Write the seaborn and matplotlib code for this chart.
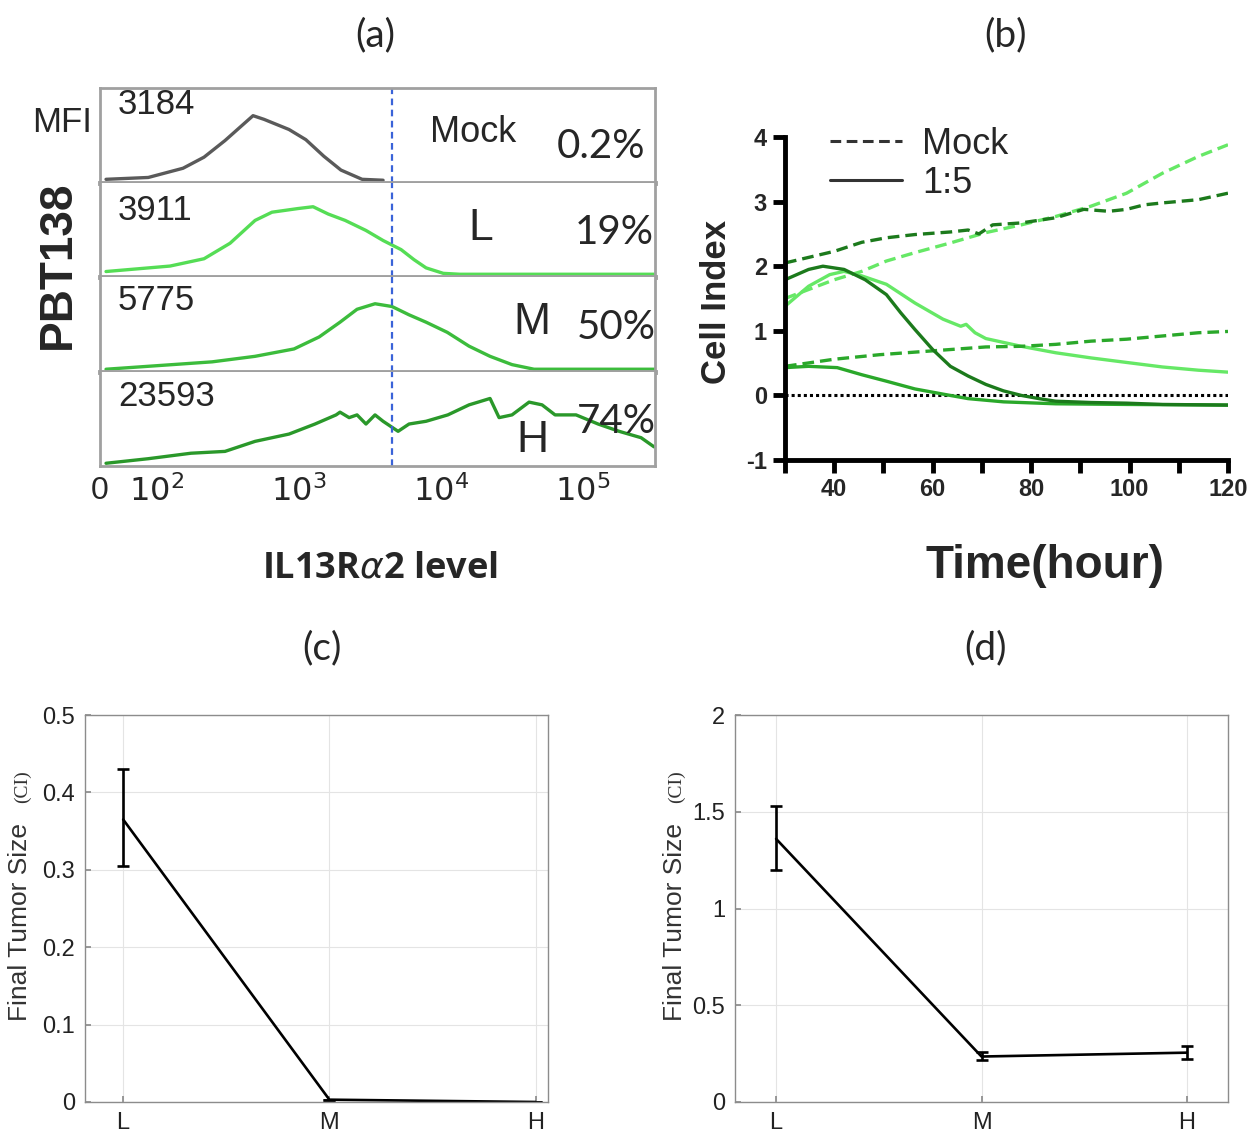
import matplotlib
matplotlib.use("Agg")
import matplotlib.pyplot as plt
from matplotlib.lines import Line2D
from matplotlib.ticker import NullLocator
import seaborn as sns
import pandas as pd

# ---- (a) flow cytometry histograms (IL13Ra2 intensity, relative count)
flow_rows = ["Mock", "L", "M", "H"]
flow_mfi = ["3184", "3911", "5775", "23593"]
flow_pct = ["0.2%", "19%", "50%", "74%"]
flow_colors = ["#5a5a5a", "#55dd55", "#3cbc3c", "#2a982a"]

mock_x = [10.6, 85, 153, 215, 302, 476, 569, 853, 1120, 1500, 1980, 2790, 3920]
mock_y = [0.01, 0.03, 0.13, 0.25, 0.43, 0.70, 0.66, 0.55, 0.44, 0.26, 0.11, 0.01, 0.0]

low_x = [10.6, 124, 215, 328, 492, 647, 986, 1260, 1610, 2120, 2970, 3920, 5250,
         6470, 7870, 10400, 13600, 322000]
low_y = [0.03, 0.09, 0.17, 0.34, 0.59, 0.68, 0.72, 0.74, 0.66, 0.59, 0.48, 0.37, 0.27,
         0.16, 0.07, 0.01, 0.0, 0.0]

mid_x = [10.6, 245, 492, 925, 1390, 1950, 2570, 3440, 4530, 5970, 7870, 11100, 15800,
         22200, 31700, 45300, 322000]
mid_y = [0.0, 0.08, 0.14, 0.22, 0.35, 0.51, 0.65, 0.71, 0.68, 0.59, 0.51, 0.40, 0.25,
         0.14, 0.05, 0.0, 0.0]

high_x = [10.6, 85, 174, 302, 492, 853, 1300, 1830, 1950, 2260, 2570, 2970, 3440, 3920,
          5000, 5970, 7870, 11200, 15800, 18300, 22200, 25700, 31700, 41800, 51600,
          63700, 89500, 128000, 180000, 257000, 317000]
high_y = [0.0, 0.05, 0.11, 0.13, 0.24, 0.32, 0.43, 0.53, 0.56, 0.50, 0.53, 0.43, 0.53,
          0.46, 0.35, 0.43, 0.46, 0.53, 0.64, 0.67, 0.71, 0.50, 0.53, 0.67, 0.64, 0.53,
          0.53, 0.43, 0.35, 0.28, 0.18]

flow_x = [mock_x, low_x, mid_x, high_x]
flow_y = [mock_y, low_y, mid_y, high_y]
flow_gate = 4500
flow_ticks = [0, 100, 1000, 10000, 100000]
flow_ticklabels = ["0", "$10^2$", "$10^3$", "$10^4$", "$10^5$"]

# ---- (b) real-time cell index
time_L_mock = [30, 40, 45.6, 50.6, 56.4, 63.6, 70.8, 78, 85, 92.2, 99.4, 106.7, 114, 120]
ci_L_mock = [1.50, 1.79, 1.92, 2.08, 2.21, 2.36, 2.52, 2.64, 2.77, 2.93, 3.13, 3.44, 3.70, 3.88]

time_M_mock = [30, 40, 49.2, 56.4, 63.6, 70.8, 78, 85, 92.2, 99.4, 106.7, 114, 120]
ci_M_mock = [0.45, 0.56, 0.63, 0.67, 0.71, 0.75, 0.76, 0.79, 0.84, 0.87, 0.92, 0.97, 0.99]

time_H_mock = [30, 40, 45.6, 50.6, 56.4, 63.6, 67.2, 69.4, 72.2, 78, 85, 90.7, 95.8,
               99.4, 103, 106.7, 114, 120]
ci_H_mock = [2.05, 2.23, 2.37, 2.44, 2.49, 2.53, 2.56, 2.50, 2.64, 2.67, 2.75, 2.88, 2.85,
             2.88, 2.95, 2.98, 3.03, 3.13]

time_L_treat = [30, 34.8, 39.1, 42, 45.6, 50.6, 56.4, 62.1, 65.7, 66.8, 68.6, 70.8, 78,
                85, 92.2, 99.4, 106.7, 114, 120]
ci_L_treat = [1.38, 1.69, 1.87, 1.92, 1.85, 1.72, 1.43, 1.18, 1.07, 1.10, 0.97, 0.88, 0.76,
              0.66, 0.58, 0.51, 0.44, 0.39, 0.36]

time_M_treat = [30, 34.8, 40.6, 45.6, 50.6, 56.4, 62.1, 67.2, 74.4, 85, 99.4, 120]
ci_M_treat = [0.43, 0.45, 0.43, 0.32, 0.22, 0.10, 0.02, -0.05, -0.10, -0.13, -0.14, -0.15]

time_H_treat = [30, 34.8, 37.7, 42, 46.3, 50.6, 53.5, 56.4, 60, 63.6, 67.2, 70.8, 74.4,
                78, 81.6, 85, 92.2, 99.4, 106.7, 120]
ci_H_treat = [1.79, 1.95, 2.0, 1.95, 1.79, 1.56, 1.28, 1.02, 0.71, 0.45, 0.30, 0.17, 0.07,
              0.0, -0.05, -0.09, -0.11, -0.12, -0.14, -0.15]

# ---- (c), (d) final tumor size
levels = ["L", "M", "H"]
size_c = [0.365, 0.003, 0.0]
low_c = [0.305, 0.003, 0.0]
high_c = [0.43, 0.003, 0.0]
size_d = [1.36, 0.235, 0.255]
low_d = [1.20, 0.215, 0.22]
high_d = [1.53, 0.26, 0.29]

sns.set_theme(style="white")
plt.rcParams['font.family'] = ['Liberation Sans', 'DejaVu Sans']
plt.rcParams['axes.unicode_minus'] = False

W, H = 1260, 1142
fig = plt.figure(figsize=(W / 100, H / 100), dpi=100)


def rect(l, t, r, b):
    return [l / W, 1 - b / H, (r - l) / W, (b - t) / H]


def ftext(x, y, s, **kw):
    kw.setdefault("ha", "center")
    kw.setdefault("va", "center")
    fig.text(x / W, 1 - y / H, s, **kw)


# panel titles
for px, py, s in [(375, 35, "(a)"), (1005, 35, "(b)"), (322, 648, "(c)"), (985, 648, "(d)")]:
    ftext(px, py, s, fontsize=28, family=["Lato", "DejaVu Sans"])

# ---------------- (a)
row_edges = [88, 183, 277, 372, 466]
grey = "#a0a0a0"
for i in range(4):
    ax = fig.add_axes(rect(100, row_edges[i], 655, row_edges[i + 1]))
    sns.lineplot(x=flow_x[i], y=flow_y[i], color=flow_colors[i], lw=2.4, ax=ax)
    ax.set_xscale("symlog", linthresh=100, linscale=0.36)
    ax.set_xlim(0, 322000)
    ax.set_ylim(-0.03, 1.0)
    ax.axvline(flow_gate, color="#3a63d8", ls=(0, (3, 2)), lw=1.6)
    for side in ["left", "right"]:
        ax.spines[side].set_color(grey)
        ax.spines[side].set_linewidth(2)
    ax.spines["bottom"].set_color(grey)
    ax.spines["bottom"].set_linewidth(3.5 if i < 3 else 2)
    if i == 0:
        ax.spines["top"].set_color(grey)
        ax.spines["top"].set_linewidth(2)
    else:
        ax.spines["top"].set_visible(False)
    ax.set_yticks([])
    ax.xaxis.set_minor_locator(NullLocator())
    if i < 3:
        ax.set_xticks([])
    else:
        ax.set_xticks(flow_ticks, flow_ticklabels)
        ax.tick_params(axis="x", length=0, labelsize=23, pad=7)

ftext(62, 122, "MFI", fontsize=25)
ftext(58, 265, "PBT138", fontsize=33, fontweight="bold", rotation=90)
for s, yy in zip(flow_mfi, [105, 210, 300, 397]):
    ftext(118, yy, s, fontsize=25, ha="left")
ftext(430, 133, "Mock", fontsize=26, ha="left")
for s, xx, yy in zip(["L", "M", "H"], [481, 532, 532], [228, 322, 440]):
    ftext(xx, yy, s, fontsize=32)
for s, xx, yy in zip(flow_pct, [557, 575, 577, 577], [147, 233, 328, 422]):
    ftext(xx, yy, s, fontsize=29, ha="left", family=["Lato", "DejaVu Sans"])
ftext(380, 568, r"IL13R$\alpha$2 level", fontsize=26, fontweight="bold",
      family=["Open Sans", "DejaVu Sans"])

# ---------------- (b)
ax_b = fig.add_axes(rect(785, 137, 1228, 460))
parts = []
for lvl, trt, tt, cc in [("L", "Mock", time_L_mock, ci_L_mock),
                         ("M", "Mock", time_M_mock, ci_M_mock),
                         ("H", "Mock", time_H_mock, ci_H_mock),
                         ("L", "1:5", time_L_treat, ci_L_treat),
                         ("M", "1:5", time_M_treat, ci_M_treat),
                         ("H", "1:5", time_H_treat, ci_H_treat)]:
    parts.append(pd.DataFrame({"time": tt, "ci": cc, "level": lvl, "treatment": trt}))
df_b = pd.concat(parts, ignore_index=True)
palette_b = {"L": "#66e866", "M": "#2aa82a", "H": "#1c7a1c"}
ax_b.axhline(0, color="black", ls=(0, (1, 1)), lw=2.2)
sns.lineplot(data=df_b, x="time", y="ci", hue="level", style="treatment",
             palette=palette_b, dashes={"Mock": (3.5, 1.8), "1:5": ""},
             estimator=None, sort=False, lw=2.4, legend=False, ax=ax_b)
ax_b.set_xlim(30, 120)
ax_b.set_ylim(-1, 4)
ax_b.spines[["top", "right"]].set_visible(False)
for side in ["left", "bottom"]:
    ax_b.spines[side].set_color("black")
    ax_b.spines[side].set_linewidth(3.5)
ax_b.set_xticks([40, 60, 80, 100, 120])
ax_b.set_xticks([30, 50, 70, 90, 110], minor=True)
ax_b.set_yticks([-1, 0, 1, 2, 3, 4])
ax_b.tick_params(which="both", bottom=True, left=True, direction="out", length=9,
                 width=3.5, color="black", labelsize=17, pad=4)
for lab in ax_b.get_xticklabels() + ax_b.get_yticklabels():
    lab.set_fontweight("bold")
ax_b.set_xlabel("Time(hour)", fontsize=33, fontweight="bold")
ax_b.set_ylabel("Cell Index", fontsize=25, fontweight="bold")
ax_b.xaxis.set_label_coords(0.587, -0.26)
ax_b.yaxis.set_label_coords(-0.118, 0.49)
handles = [Line2D([], [], color="#333333", lw=2.2, dashes=(3.5, 1.8)),
           Line2D([], [], color="#333333", lw=2.2)]
ax_b.legend(handles, ["Mock", "1:5"], loc="upper left",
            bbox_to_anchor=(830 / W, 1 - 127 / H), bbox_transform=fig.transFigure,
            frameon=False, fontsize=26, handlelength=2.0, handletextpad=0.55,
            borderpad=0, borderaxespad=0, labelspacing=0.1)


# ---------------- (c), (d)
def tumor_panel(box, sizes, lows, highs, yticks, ylabels, xlim, lab_x, ci_x):
    ax = fig.add_axes(rect(*box))
    df = pd.DataFrame({"level": levels, "size": sizes})
    sns.lineplot(data=df, x="level", y="size", color="black", lw=1.9, sort=False, ax=ax)
    yerr = [[s - lo for s, lo in zip(sizes, lows)], [hi - s for s, hi in zip(sizes, highs)]]
    ax.errorbar(levels, sizes, yerr=yerr, fmt="none", ecolor="black",
                elinewidth=1.9, capsize=4, capthick=1.9)
    ax.set_xlim(*xlim)
    ax.set_ylim(yticks[0], yticks[-1])
    ax.set_yticks(yticks, ylabels)
    ax.grid(True, color="#e4e4e4", lw=0.8)
    for sp in ax.spines.values():
        sp.set_color("#8c8c8c")
        sp.set_linewidth(1.0)
    ax.tick_params(bottom=True, left=True, direction="in", length=4, color="#8c8c8c",
                   labelsize=17, labelcolor="#222222", pad=7)
    ax.set_xlabel("")
    ax.set_ylabel("Final Tumor Size", fontsize=19, color="#333333")
    ax.yaxis.set_label_coords(lab_x, 0.465)
    ax.text(ci_x, 0.814, "(CI)", transform=ax.transAxes, rotation=90, fontsize=14,
            family=["Liberation Serif", "DejaVu Serif"], color="#333333",
            ha="center", va="center")
    return ax


tumor_panel((85, 715, 548, 1102), size_c, low_c, high_c,
            [0, 0.1, 0.2, 0.3, 0.4, 0.5], ["0", "0.1", "0.2", "0.3", "0.4", "0.5"],
            (-0.185, 2.06), -0.114, -0.136)
tumor_panel((735, 715, 1228, 1102), size_d, low_d, high_d,
            [0, 0.5, 1, 1.5, 2], ["0", "0.5", "1", "1.5", "2"],
            (-0.2, 2.2), -0.097, -0.118)

fig.savefig("out.png", dpi=100)
